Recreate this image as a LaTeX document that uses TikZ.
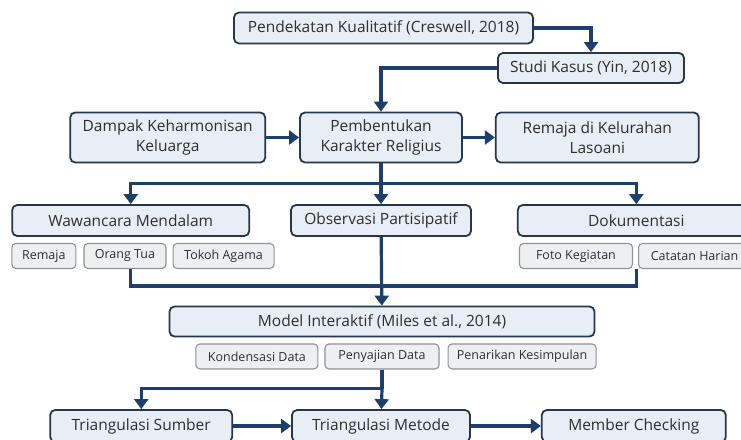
\documentclass[tikz,border=0pt]{standalone}
\usepackage{fontspec}
\setmainfont{Open Sans}
\usetikzlibrary{arrows.meta,positioning,calc}
\definecolor{boxfill}{HTML}{E8EEF5}
\definecolor{boxline}{HTML}{27364B}
\definecolor{tagfill}{HTML}{EDEFF1}
\definecolor{tagline}{HTML}{8E9298}
\definecolor{flow}{HTML}{1D3F6E}
\definecolor{ink}{HTML}{2E2E2E}

\begin{document}
\begin{tikzpicture}[
 x=1pt,y=-1pt,
 box/.style={draw=boxline,fill=boxfill,rounded corners=5pt,line width=1.8pt,
              align=center,inner sep=2pt,text=ink,font=\fontsize{15.5}{20}\selectfont},
 tag/.style={draw=tagline,fill=tagfill,rounded corners=4pt,line width=1.1pt,
              inner sep=2pt,minimum height=25pt,text=ink,font=\fontsize{12.5}{14}\selectfont},
 link/.style={draw=flow,line width=3.2pt},
 arrow/.style={link,-{Triangle[length=10pt,width=14pt]}}
]
\useasboundingbox[fill=white] (0,0) rectangle (741,439);

% approach
\node[box,minimum width=299pt,minimum height=31pt] (kual) at (383.5,28) {Pendekatan Kualitatif (Creswell, 2018)};
\node[box,minimum width=186pt,minimum height=30pt] (studi) at (591,68) {Studi Kasus (Yin, 2018)};

% focus
\node[box,minimum width=162pt,minimum height=50pt] (bentuk) at (381,137.5) {Pembentukan\\Karakter Religius};
\node[box,minimum width=195pt,minimum height=50pt,left=33pt of bentuk] (dampak) {Dampak Keharmonisan\\Keluarga};
\node[box,minimum width=203pt,minimum height=50pt,right=32pt of bentuk] (remaja) {Remaja di Kelurahan\\Lasoani};

% data collection
\node[box,minimum width=180pt,minimum height=31pt] (obs) at (381,220.5) {Observasi Partisipatif};
\node[box,minimum width=237pt,minimum height=31pt,left=40pt of obs] (waw) {Wawancara Mendalam};
\node[box,minimum width=237pt,minimum height=31pt,right=45pt of obs] (dok) {Dokumentasi};
\node[tag,minimum width=64pt,below right=6pt and 0pt of waw.south west] (tremaja) {Remaja};
\node[tag,minimum width=82pt,right=7pt of tremaja] (ortu) {Orang Tua};
\node[tag,minimum width=101pt,right=6pt of ortu] (tokoh) {Tokoh Agama};
\node[tag,minimum width=113pt,below right=6pt and 2pt of dok.south west] (foto) {Foto Kegiatan};
\node[tag,minimum width=112pt,right=5pt of foto] (catatan) {Catatan Harian};

% analysis
\node[box,minimum width=425pt,minimum height=30pt] (model) at (382,321.5) {Model Interaktif (Miles et al., 2014)};
\node[tag,minimum width=114pt,below=6pt of model] (sajian) {Penyajian Data};
\node[tag,minimum width=122pt,left=6pt of sajian] (kondensasi) {Kondensasi Data};
\node[tag,minimum width=148pt,right=8pt of sajian] (simpulan) {Penarikan Kesimpulan};

% validity
\node[box,minimum width=178pt,minimum height=32pt] (metode) at (381,426) {Triangulasi Metode};
\node[box,minimum width=182pt,minimum height=32pt,left=58pt of metode] (sumber) {Triangulasi Sumber};
\node[box,minimum width=184pt,minimum height=32pt,right=70pt of metode] (member) {Member Checking};

\coordinate (fork1) at ($(bentuk.south)+(0,20)$);
\coordinate (wawout) at (waw.south |- ortu.south);
\coordinate (dokout) at (dok.south |- foto.south);
\coordinate (fork2) at ($(sajian.south)+(0,19)$);

\draw[arrow] (kual.east) -| (studi.north);
\draw[arrow] (studi.west) -| (bentuk.north);
\draw[arrow] (dampak) -- (bentuk);
\draw[arrow] (bentuk) -- (remaja);
\draw[link] (bentuk) -- (fork1);
\draw[arrow] (fork1) -| (waw.north);
\draw[arrow] (fork1) -- (obs);
\draw[arrow] (fork1) -| (dok.north);
\draw[link] (wawout) -- ++(0,17) -| (dokout);
\draw[arrow] (obs) -- (model);
\draw[link] (sajian) -- (fork2);
\draw[arrow] (fork2) -| (sumber.north);
\draw[arrow] (fork2) -- (metode);
\draw[arrow] (sumber) -- (metode);
\draw[arrow] (metode) -- (member);
\end{tikzpicture}
\end{document}
